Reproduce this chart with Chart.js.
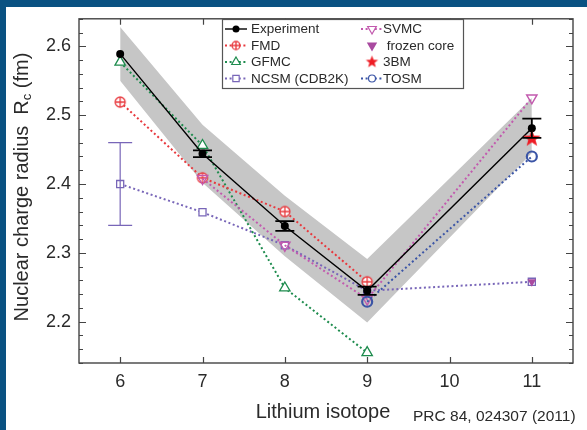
<!DOCTYPE html>
<html>
<head>
<meta charset="utf-8">
<script src="https://cdn.jsdelivr.net/npm/chart.js@4.4.1/dist/chart.umd.min.js"></script>
<style>
    html, body { margin: 0; padding: 0; background: #fff; }
    #wrap { width: 587px; height: 430px; }
</style>
</head>
<body>
<div id="wrap"><canvas id="chart" width="587" height="430"></canvas></div>
<script>
(function () {
    'use strict';

    // ── Data ─────────────────────────────────────────────────
    var isotopes = [6, 7, 8, 9, 11];
    var xTickValues = [6, 7, 8, 9, 10, 11];

    var expR = [2.589, 2.444, 2.339, 2.245, 2.481];
    var expErr = [0, 0.005, 0.007, 0.006, 0.014];
    var bandHi = [2.628, 2.486, 2.383, 2.291, 2.525];
    var bandLo = [2.550, 2.402, 2.295, 2.199, 2.445];

    var fmdR = [2.519, 2.409, 2.360, 2.258, null];
    var gfmcR = [2.577, 2.456, 2.249, 2.155, null];
    var ncsmR = [2.400, 2.359, 2.311, 2.245, 2.258];
    var ncsmErr = [0.060, 0, 0, 0, 0];
    var svmcR = [null, 2.408, 2.311, 2.233, 2.525];
    var frozenR = [null, null, null, null, 2.258];
    var bm3R = [null, null, null, null, 2.466];
    var tosmR = [null, null, null, 2.229, 2.440];

    var legendLabels = ['Experiment', 'FMD', 'GFMC', 'NCSM (CDB2K)', 'SVMC', ' frozen core', '3BM', 'TOSM'];

    var COLORS = {
        blue: '#0a5282',
        exp: '#000000',
        fmd: '#e8383d',
        gfmc: '#1e8c4e',
        ncsm: '#7866b8',
        svmc: '#c25aae',
        frozen: '#a94aa0',
        bm3: '#ee1c24',
        tosm: '#3b55a6',
        band: '#c6c6c6',
        axis: '#444444',
        text: '#2a2a2a'
    };

    var FONT = "'Liberation Sans', Arial, sans-serif";
    var DOTS = [2, 2.6];

    // ── Helpers ───────────────────────────────────────────────
    function pts(ys) {
        var out = [];
        isotopes.forEach(function (x, i) {
            if (ys[i] !== null) out.push({ x: x, y: ys[i] });
        });
        return out;
    }

    function ringCross(color, r) {
        var s = Math.ceil(2 * r + 4);
        var c = document.createElement('canvas');
        c.width = c.height = s;
        var g = c.getContext('2d');
        var m = s / 2;
        g.strokeStyle = color;
        g.lineWidth = 1.3;
        g.fillStyle = '#fff';
        g.beginPath(); g.arc(m, m, r, 0, 2 * Math.PI); g.fill(); g.stroke();
        g.beginPath();
        g.moveTo(m - r, m); g.lineTo(m + r, m);
        g.moveTo(m, m - r); g.lineTo(m, m + r);
        g.stroke();
        return c;
    }

    function starImg(color, r) {
        var s = Math.ceil(2 * r + 2);
        var c = document.createElement('canvas');
        c.width = c.height = s;
        var g = c.getContext('2d');
        g.fillStyle = color;
        g.beginPath();
        for (var i = 0; i < 10; i++) {
            var rr = i % 2 === 0 ? r : r * 0.42;
            var a = -Math.PI / 2 + i * Math.PI / 5;
            var px = s / 2 + rr * Math.cos(a), py = s / 2 + rr * Math.sin(a);
            if (i === 0) g.moveTo(px, py); else g.lineTo(px, py);
        }
        g.closePath();
        g.fill();
        return c;
    }

    function isMajor(v) {
        return Math.abs(v * 10 - Math.round(v * 10)) < 1e-6;
    }

    var fmdMarker = ringCross(COLORS.fmd, 5);
    var starMarker = starImg(COLORS.bm3, 9);

    // ── Datasets ─────────────────────────────────────────────
    var datasets = [
        { label: 'bandHi', data: pts(bandHi), showLine: true, fill: '+1', backgroundColor: COLORS.band,
          borderWidth: 0, pointRadius: 0, order: 20 },
        { label: 'bandLo', data: pts(bandLo), showLine: true, fill: false, borderWidth: 0,
          pointRadius: 0, order: 21 },
        { label: 'NCSM (CDB2K)', data: pts(ncsmR), showLine: true, borderColor: COLORS.ncsm,
          borderWidth: 2, borderDash: DOTS, pointStyle: 'rect', pointRadius: 5, pointBorderWidth: 1.3,
          pointBorderColor: COLORS.ncsm, pointBackgroundColor: '#fff', order: 9 },
        { label: 'GFMC', data: pts(gfmcR), showLine: true, borderColor: COLORS.gfmc,
          borderWidth: 2, borderDash: DOTS, pointStyle: 'triangle', pointRadius: 6, pointBorderWidth: 1.3,
          pointBorderColor: COLORS.gfmc, pointBackgroundColor: '#fff', order: 8 },
        { label: 'FMD', data: pts(fmdR), showLine: true, borderColor: COLORS.fmd,
          borderWidth: 2, borderDash: DOTS, pointStyle: fmdMarker, order: 7 },
        { label: 'SVMC', data: pts(svmcR), showLine: true, borderColor: COLORS.svmc,
          borderWidth: 2, borderDash: DOTS, pointStyle: 'triangle', pointRotation: 180, pointRadius: 6,
          pointBorderWidth: 1.4, pointBorderColor: COLORS.svmc, pointBackgroundColor: 'rgba(255,255,255,0)', order: 6 },
        { label: 'TOSM', data: pts(tosmR), showLine: true, borderColor: COLORS.tosm,
          borderWidth: 2, borderDash: DOTS, pointStyle: 'circle', pointRadius: 5, pointBorderWidth: 2.2,
          pointBorderColor: COLORS.tosm, pointBackgroundColor: 'rgba(255,255,255,0)', order: 5 },
        { label: 'Experiment', data: pts(expR), showLine: true, borderColor: COLORS.exp,
          borderWidth: 1.4, pointStyle: 'circle', pointRadius: 4, pointBorderWidth: 0,
          pointBackgroundColor: COLORS.exp, order: 4 },
        { label: 'frozen core', data: pts(frozenR), showLine: false, pointStyle: 'triangle', pointRotation: 180,
          pointRadius: 5, pointBorderWidth: 0, pointBackgroundColor: COLORS.frozen, order: 3 },
        { label: '3BM', data: pts(bm3R), showLine: false, pointStyle: starMarker, order: 2 }
    ];

    // ── Plugins ──────────────────────────────────────────────
    var background = {
        id: 'background',
        beforeDraw: function (chart) {
            var ctx = chart.ctx;
            ctx.save();
            ctx.fillStyle = '#fff';
            ctx.fillRect(0, 0, chart.width, chart.height);
            ctx.fillStyle = COLORS.blue;
            ctx.fillRect(0, 0, chart.width, 7);
            ctx.fillRect(0, 0, 6, chart.height);
            ctx.restore();
        }
    };

    function errorBar(ctx, xs, ys, x, y, err, half, color, lw) {
        var px = xs.getPixelForValue(x);
        var top = ys.getPixelForValue(y + err), bot = ys.getPixelForValue(y - err);
        ctx.strokeStyle = color;
        ctx.lineWidth = lw;
        ctx.beginPath();
        ctx.moveTo(px, top); ctx.lineTo(px, bot);
        ctx.moveTo(px - half, top); ctx.lineTo(px + half, top);
        ctx.moveTo(px - half, bot); ctx.lineTo(px + half, bot);
        ctx.stroke();
    }

    function marker(ctx, style, x, y) {
        ctx.save();
        ctx.fillStyle = style.fill;
        ctx.strokeStyle = style.stroke;
        Chart.helpers.drawPoint(ctx, {
            pointStyle: style.pointStyle, rotation: style.rotation || 0,
            radius: style.radius, borderWidth: style.borderWidth
        }, x, y);
        ctx.restore();
    }

    var decorations = {
        id: 'decorations',
        afterDatasetsDraw: function (chart) {
            var ctx = chart.ctx, ca = chart.chartArea;
            var xs = chart.scales.x, ys = chart.scales.y;
            ctx.save();

            // error bars
            isotopes.forEach(function (x, i) {
                if (expErr[i] > 0) errorBar(ctx, xs, ys, x, expR[i], expErr[i], 9.5, COLORS.exp, 1.8);
                if (ncsmErr[i] > 0) errorBar(ctx, xs, ys, x, ncsmR[i], ncsmErr[i], 12, COLORS.ncsm, 1.2);
            });

            // frame + inward ticks
            ctx.strokeStyle = COLORS.axis;
            ctx.lineWidth = 1.4;
            ctx.strokeRect(ca.left, ca.top, ca.right - ca.left, ca.bottom - ca.top);
            ctx.lineWidth = 1.2;
            ctx.beginPath();
            ys.ticks.forEach(function (t) {
                var py = Math.round(ys.getPixelForValue(t.value)) + 0.5;
                var L = isMajor(t.value) ? 7 : 4;
                ctx.moveTo(ca.left, py); ctx.lineTo(ca.left + L, py);
                ctx.moveTo(ca.right, py); ctx.lineTo(ca.right - L, py);
            });
            xTickValues.forEach(function (v) {
                var px = Math.round(xs.getPixelForValue(v)) + 0.5;
                ctx.moveTo(px, ca.bottom); ctx.lineTo(px, ca.bottom - 6);
                ctx.moveTo(px, ca.top); ctx.lineTo(px, ca.top + 6);
            });
            ctx.stroke();

            // legend
            var styles = [
                { line: [], color: COLORS.exp, pointStyle: 'circle', radius: 3.5, fill: COLORS.exp, stroke: COLORS.exp, borderWidth: 0 },
                { line: DOTS, color: COLORS.fmd, pointStyle: ringCross(COLORS.fmd, 4), radius: 4, fill: '#fff', stroke: COLORS.fmd, borderWidth: 0 },
                { line: DOTS, color: COLORS.gfmc, pointStyle: 'triangle', radius: 5, fill: '#fff', stroke: COLORS.gfmc, borderWidth: 1.2 },
                { line: DOTS, color: COLORS.ncsm, pointStyle: 'rect', radius: 4.5, fill: '#fff', stroke: COLORS.ncsm, borderWidth: 1.2 },
                { line: DOTS, color: COLORS.svmc, pointStyle: 'triangle', rotation: 180, radius: 5, fill: '#fff', stroke: COLORS.svmc, borderWidth: 1.2 },
                { line: null, color: COLORS.frozen, pointStyle: 'triangle', rotation: 180, radius: 6, fill: COLORS.frozen, stroke: COLORS.frozen, borderWidth: 0 },
                { line: null, color: COLORS.bm3, pointStyle: starImg(COLORS.bm3, 6.5), radius: 6, fill: COLORS.bm3, stroke: COLORS.bm3, borderWidth: 0 },
                { line: DOTS, color: COLORS.tosm, pointStyle: 'circle', radius: 3.5, fill: '#fff', stroke: COLORS.tosm, borderWidth: 1.6 }
            ];
            var rows = [29, 45.5, 62, 78.5];
            var cols = [{ xm: 236, xt: 251 }, { xm: 372, xt: 383 }];

            ctx.fillStyle = '#fff';
            ctx.fillRect(222, 19, 241, 69);
            ctx.strokeStyle = '#555';
            ctx.lineWidth = 1.2;
            ctx.strokeRect(222.5, 19.5, 241, 69);

            legendLabels.forEach(function (label, i) {
                var col = cols[i < 4 ? 0 : 1], y = rows[i % 4], st = styles[i];
                if (st.line) {
                    ctx.save();
                    ctx.strokeStyle = st.color;
                    ctx.lineWidth = st.line.length ? 2 : 1.4;
                    ctx.setLineDash(st.line);
                    ctx.beginPath();
                    ctx.moveTo(col.xm - 11, y); ctx.lineTo(col.xm + 11, y);
                    ctx.stroke();
                    ctx.restore();
                }
                marker(ctx, st, col.xm, y);
                ctx.fillStyle = COLORS.text;
                ctx.font = '13.5px ' + FONT;
                ctx.textBaseline = 'middle';
                ctx.textAlign = 'left';
                ctx.fillText(label, col.xt, y + 0.5);
            });

            ctx.restore();
        },
        afterDraw: function (chart) {
            var ctx = chart.ctx;
            ctx.save();
            ctx.fillStyle = COLORS.text;
            ctx.textBaseline = 'middle';

            // x title + reference
            ctx.font = '20px ' + FONT;
            ctx.textAlign = 'center';
            ctx.fillText('Lithium isotope', 323, 412);
            ctx.font = '15.5px ' + FONT;
            ctx.textAlign = 'left';
            ctx.fillText('PRC 84, 024307 (2011)', 413, 417);

            // y title with subscript
            var main = 'Nuclear charge radius  R', sub = 'c', tail = ' (fm)';
            ctx.translate(22, 187);
            ctx.rotate(-Math.PI / 2);
            ctx.font = '20px ' + FONT;
            var w1 = ctx.measureText(main).width, w3 = ctx.measureText(tail).width;
            ctx.font = '13px ' + FONT;
            var w2 = ctx.measureText(sub).width;
            var x0 = -(w1 + w2 + w3) / 2;
            ctx.textAlign = 'left';
            ctx.font = '20px ' + FONT;
            ctx.fillText(main, x0, 0);
            ctx.font = '13px ' + FONT;
            ctx.fillText(sub, x0 + w1, 5);
            ctx.font = '20px ' + FONT;
            ctx.fillText(tail, x0 + w1 + w2, 0);
            ctx.restore();
        }
    };

    // ── Chart ────────────────────────────────────────────────
    new Chart(document.getElementById('chart'), {
        type: 'scatter',
        data: { datasets: datasets },
        options: {
            responsive: false,
            animation: false,
            events: [],
            layout: { padding: { left: 0, top: 12, right: 14, bottom: 0 } },
            plugins: {
                legend: { display: false },
                tooltip: { enabled: false }
            },
            scales: {
                x: {
                    type: 'linear',
                    min: 5.5,
                    max: 11.5,
                    afterBuildTicks: function (s) {
                        s.ticks = xTickValues.map(function (v) { return { value: v }; });
                    },
                    grid: { display: false, drawTicks: false },
                    border: { display: false },
                    ticks: { color: COLORS.text, padding: 8, autoSkip: false, maxRotation: 0,
                             font: { size: 18, family: FONT } },
                    afterFit: function (s) { s.height = 67; }
                },
                y: {
                    min: 2.14,
                    max: 2.64,
                    grid: { display: false, drawTicks: false },
                    border: { display: false },
                    ticks: {
                        stepSize: 0.02,
                        autoSkip: false,
                        color: COLORS.text,
                        padding: 8,
                        font: { size: 18, family: FONT },
                        callback: function (v) { return isMajor(v) ? v.toFixed(1) : ''; }
                    },
                    afterFit: function (s) { s.width = 79; }
                }
            }
        },
        plugins: [background, decorations]
    });
})();
</script>
</body>
</html>
